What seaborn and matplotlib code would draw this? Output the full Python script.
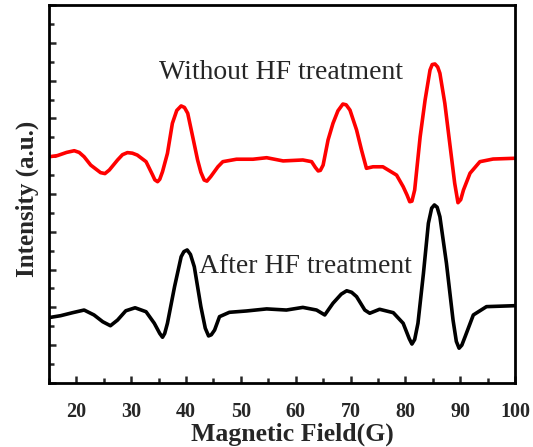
import matplotlib
matplotlib.use("Agg")
import matplotlib.pyplot as plt
from matplotlib.ticker import MultipleLocator
import seaborn as sns
import pandas as pd

# Data
field_red = [15.0, 16.5, 18.2, 19.6, 20.5, 21.4, 22.6, 24.4, 25.2, 26.0, 27.5, 28.4, 29.3,
             30.2, 31.1, 32.7, 33.9, 34.3, 34.8, 35.2, 35.7, 36.6, 37.5, 38.3, 39.1, 39.7,
             40.3, 41.2, 42.1, 42.7, 43.3, 43.8, 44.5, 45.8, 46.7, 49.2, 52.2, 54.7, 57.7,
             61.3, 62.9, 63.6, 64.1, 64.5, 65.0, 65.9, 66.8, 67.7, 68.6, 69.2, 69.9, 71.1,
             72.0, 72.9, 74.1, 75.9, 78.4, 79.6, 80.3, 80.8, 81.2, 81.7, 82.7, 83.6, 84.5,
             84.9, 85.4, 85.9, 86.3, 87.2, 88.1, 89.0, 89.6, 90.1, 90.6, 91.8, 93.6, 96.0,
             100.0]
int_red = [11.97, 12.03, 12.20, 12.29, 12.20, 11.97, 11.53, 11.13, 11.08, 11.27, 11.80,
           12.08, 12.19, 12.16, 12.06, 11.71, 11.00, 10.75, 10.65, 10.78, 11.18, 12.15,
           13.74, 14.42, 14.66, 14.58, 14.27, 13.04, 11.80, 11.15, 10.74, 10.68, 10.92,
           11.44, 11.71, 11.84, 11.84, 11.92, 11.75, 11.80, 11.71, 11.40, 11.22, 11.25,
           11.53, 12.86, 13.74, 14.40, 14.76, 14.72, 14.44, 13.39, 12.33, 11.36, 11.44,
           11.44, 11.00, 10.39, 9.95, 9.59, 9.62, 10.21, 13.03, 14.97, 16.56, 16.85, 16.88,
           16.72, 16.39, 14.80, 12.68, 10.57, 9.54, 9.70, 10.21, 11.10, 11.71, 11.85, 11.89]

field_blk = [15.0, 17.1, 19.3, 21.4, 23.2, 24.8, 26.2, 27.5, 29.0, 30.7, 32.7, 34.2, 35.2,
             35.7, 36.1, 36.6, 37.9, 39.1, 39.6, 40.2, 40.8, 41.5, 42.7, 43.5, 44.1, 44.6,
             45.2, 46.1, 47.9, 51.0, 54.7, 58.3, 61.3, 63.8, 65.3, 66.8, 68.3, 69.3, 70.2,
             71.1, 72.6, 73.5, 75.3, 77.8, 79.6, 80.7, 81.2, 81.7, 82.3, 83.3, 84.2, 84.8,
             85.3, 85.8, 86.3, 87.5, 88.7, 89.3, 89.8, 90.3, 90.9, 92.4, 94.8, 100.0]
int_blk = [3.46, 3.56, 3.72, 3.86, 3.60, 3.24, 3.03, 3.33, 3.82, 3.98, 3.77, 3.16, 2.62,
           2.42, 2.62, 3.16, 5.10, 6.68, 6.95, 7.04, 6.80, 6.15, 4.04, 2.90, 2.49, 2.55,
           2.80, 3.51, 3.74, 3.81, 3.92, 3.86, 4.00, 3.86, 3.60, 4.22, 4.70, 4.88, 4.80,
           4.57, 3.86, 3.69, 3.90, 3.72, 3.16, 2.35, 2.06, 2.30, 3.16, 5.80, 8.45, 9.25,
           9.42, 9.30, 8.80, 6.33, 3.33, 2.20, 1.84, 2.00, 2.45, 3.60, 4.04, 4.09]

labels = ["Without HF treatment", "After HF treatment"]
xticks = [20, 30, 40, 50, 60, 70, 80, 90, 100]

df = pd.concat([
    pd.DataFrame({"field": field_red, "intensity": int_red, "sample": labels[0]}),
    pd.DataFrame({"field": field_blk, "intensity": int_blk, "sample": labels[1]}),
])

sns.set_style("ticks")
plt.rcParams["font.family"] = ["Liberation Serif", "DejaVu Serif"]

fig = plt.figure(figsize=(5.33, 4.47), dpi=100)
ax = fig.add_axes([0.092, 0.1432, 0.8742, 0.8456])

sns.lineplot(data=df, x="field", y="intensity", hue="sample",
             palette={labels[0]: "#ff0000", labels[1]: "#000000"},
             estimator=None, sort=False, linewidth=2.6, legend=False, ax=ax)
for ln in ax.get_lines():
    ln.set_solid_joinstyle("round")
    ln.set_solid_capstyle("round")

ax.set_xlim(15, 100)
ax.set_ylim(0, 20)
ax.set_xticks(xticks)
ax.xaxis.set_minor_locator(MultipleLocator(5))
ax.yaxis.set_major_locator(MultipleLocator(2))
ax.yaxis.set_minor_locator(MultipleLocator(1))
ax.set_yticklabels([])
ax.tick_params(axis="both", which="major", direction="in", length=5, width=1.8,
               top=False, right=False)
ax.tick_params(axis="both", which="minor", direction="in", length=3.5, width=1.8,
               top=False, right=False)
ax.tick_params(axis="x", which="major", labelsize=14.5, pad=14)
for lbl in ax.get_xticklabels():
    lbl.set_fontweight("bold")
for s in ax.spines.values():
    s.set_linewidth(2)
    s.set_color("black")

ax.set_xlabel("Magnetic Field(G)", fontsize=18.5, fontweight="bold", labelpad=0)
ax.xaxis.label.set_x(0.522)
ax.set_ylabel("Intensity (a.u.)", fontsize=18, fontweight="bold", labelpad=4)
ax.yaxis.label.set_y(0.487)

ax.text(57.4, 16.45, labels[0], fontsize=20, ha="center", va="center")
ax.text(61.8, 6.19, labels[1], fontsize=20, ha="center", va="center")

fig.savefig("out.png", dpi=100)
